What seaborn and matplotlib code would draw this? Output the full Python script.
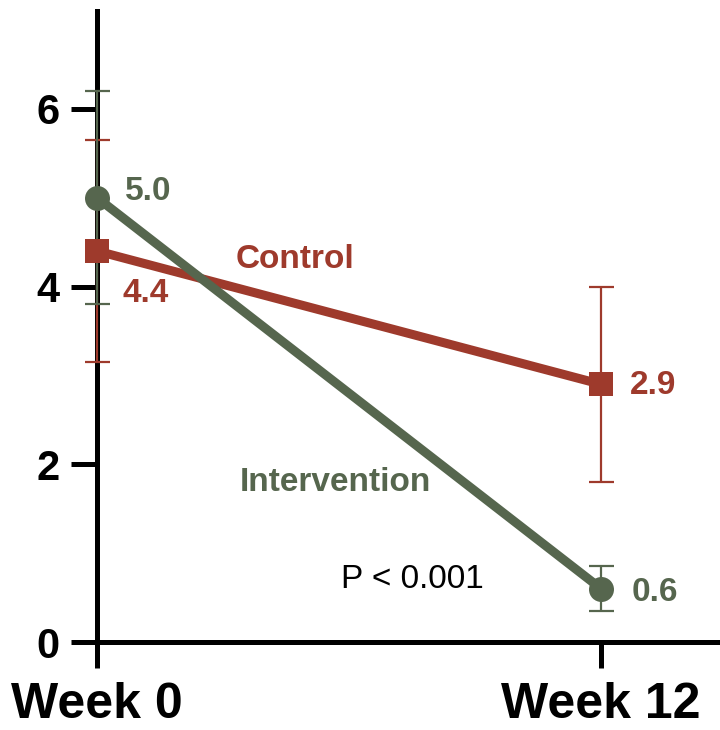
import numpy as np
import pandas as pd
import matplotlib
matplotlib.use("Agg")
import matplotlib.pyplot as plt
import seaborn as sns

# data
weeks = ["Week 0", "Week 12"]
control_mean = [4.4, 2.9]
control_err = [1.25, 1.1]
interv_mean = [5.0, 0.6]
interv_err = [1.2, 0.25]

red = "#9E3A2C"
green = "#56664E"

sns.set_style("ticks")
plt.rcParams['font.family'] = ['Liberation Sans', 'DejaVu Sans']
plt.rcParams['text.color'] = 'black'
plt.rcParams['xtick.color'] = 'black'
plt.rcParams['ytick.color'] = 'black'

df = pd.DataFrame({
    "x": [0, 1, 0, 1],
    "value": control_mean + interv_mean,
    "err": control_err + interv_err,
    "group": ["Control", "Control", "Intervention", "Intervention"],
})

fig = plt.figure(figsize=(7.2, 7.3), dpi=100)
ax = fig.add_axes([0.1347, 0.1205, 0.8653, 0.8644])

# error bars first so markers sit on top
ctrl = df[df.group == "Control"]
intv = df[df.group == "Intervention"]
ax.errorbar(ctrl.x, ctrl.value, yerr=ctrl.err, fmt="none", ecolor=red,
            elinewidth=1.6, capsize=9, capthick=1.6, zorder=4, clip_on=False)
ax.errorbar(intv.x, intv.value, yerr=intv.err, fmt="none", ecolor=green,
            elinewidth=1.6, capsize=9, capthick=1.6, zorder=5, clip_on=False)

sns.lineplot(data=ctrl, x="x", y="value", color=red, lw=6.5, marker="s",
             markersize=17, markeredgewidth=0, ax=ax, zorder=6, clip_on=False)
sns.lineplot(data=intv, x="x", y="value", color=green, lw=6.5, marker="o",
             markersize=18, markeredgewidth=0, ax=ax, zorder=7, clip_on=False)

# value labels
lab = dict(fontsize=24, fontweight="bold", va="center", ha="left")
ax.text(0.056, 5.07, f"{interv_mean[0]:.1f}", color=green, **lab)
ax.text(0.05, 3.92, f"{control_mean[0]:.1f}", color=red, **lab)
ax.text(1.058, 2.89, f"{control_mean[1]:.1f}", color=red, **lab)
ax.text(1.061, 0.56, f"{interv_mean[1]:.1f}", color=green, **lab)
ax.text(0.276, 4.3, "Control", color=red, **lab)
ax.text(0.284, 1.79, "Intervention", color=green, **lab)
ax.text(0.625, 0.7, "P < 0.001", color="black", fontsize=24, ha="center", va="center")

ax.set_xlim(0, 1.236)
ax.set_ylim(0, 7.1)
ax.set_xticks([0, 1])
ax.set_xticklabels(weeks, fontsize=36, fontweight="bold")
ax.set_yticks([0, 2, 4, 6])
ax.set_yticklabels(["0", "2", "4", "6"], fontsize=30, fontweight="bold")
ax.tick_params(axis="both", length=19, width=3.6, color="black", labelcolor="black")
ax.tick_params(axis="x", pad=10)
ax.tick_params(axis="y", pad=8)
ax.set_xlabel("")
ax.set_ylabel("")

for s in ["left", "bottom"]:
    ax.spines[s].set_linewidth(3.6)
    ax.spines[s].set_color("black")
sns.despine(ax=ax)

fig.savefig("out.png", dpi=100)
